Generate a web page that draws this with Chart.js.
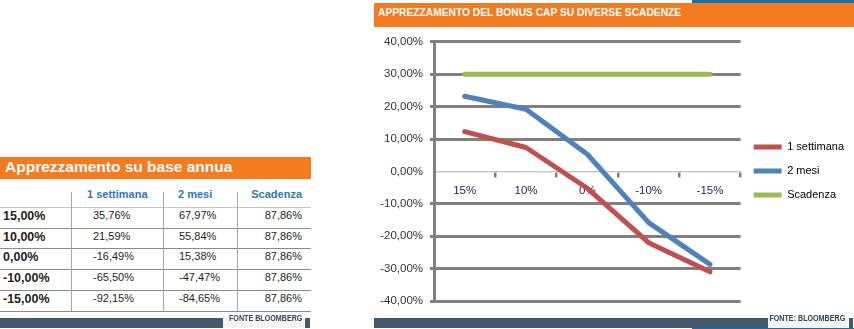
<!DOCTYPE html>
<html><head><meta charset="utf-8">
<script src="https://cdn.jsdelivr.net/npm/chart.js@4.4.1/dist/chart.umd.min.js"></script>
<style>
html,body{margin:0;padding:0;background:#fff;width:854px;height:329px;overflow:hidden;font-family:"Liberation Sans",Arial,sans-serif;}
.a{position:absolute;white-space:nowrap;}
</style></head><body>
<canvas id="c" width="480" height="290" style="position:absolute;left:374px;top:28px;"></canvas>
<script>
// ---- table data ----
const tableTitle = 'Apprezzamento su base annua';
const rowLabels = ['15,00%', '10,00%', '0,00%', '-10,00%', '-15,00%'];
const colLabels = ['1 settimana', '2 mesi', 'Scadenza'];
const annuo1Settimana = ['35,76%', '21,59%', '-16,49%', '-65,50%', '-92,15%'];
const annuo2Mesi = ['67,97%', '55,84%', '15,38%', '-47,47%', '-84,65%'];
const annuoScadenza = ['87,86%', '87,86%', '87,86%', '87,86%', '87,86%'];

// ---- chart data ----
const chartTitle = 'APPREZZAMENTO DEL BONUS CAP SU DIVERSE SCADENZE';
const categories = ['15%', '10%', '0%', '-10%', '-15%'];
const seriesNames = ['1 settimana', '2 mesi', 'Scadenza'];
const settimana = [12.3, 7.4, -5.2, -22.0, -31.0];
const dueMesi = [23.2, 19.2, 5.3, -15.8, -28.7];
const scadenza = [30, 30, 30, 30, 30];
const yMin = -40, yMax = 40, yStep = 10;

const ORANGE = '#F47B20', SLATE = '#44596E', STRIP = '#1C6FA2';

function box(l, t, w, h, bg) {
  const d = document.createElement('div');
  d.className = 'a';
  Object.assign(d.style, {left: l + 'px', top: t + 'px', width: w + 'px', height: h + 'px', background: bg});
  document.body.appendChild(d);
  return d;
}
function text(s, x, cy, font, color, align, sx) {
  const h = 20;
  const d = document.createElement('div');
  d.className = 'a';
  d.textContent = s;
  Object.assign(d.style, {top: (cy - h / 2) + 'px', height: h + 'px', lineHeight: h + 'px', font: font, color: color});
  if (align === 'right') { d.style.right = (854 - x) + 'px'; d.style.transformOrigin = 'right center'; }
  else { d.style.left = x + 'px'; d.style.transformOrigin = 'left center'; }
  if (sx) d.style.transform = 'scaleX(' + sx + ')';
  document.body.appendChild(d);
  return d;
}

// ---- right frame ----
box(692, 0, 162, 3, STRIP);
box(374, 3, 480, 24, ORANGE);
text(chartTitle, 378, 16, 'bold 11.5px "Liberation Sans"', '#fff', 'left', 0.89);
box(374, 318, 394, 10, SLATE);
box(768, 318, 80, 10, '#F3F3F3');
box(849, 318, 4, 10, SLATE);
text('FONTE: BLOOMBERG', 845, 323, 'bold 8.5px "Liberation Sans"', '#34475B', 'right', 0.84);
box(692, 328, 162, 1, STRIP);

// ---- left table ----
box(0, 157, 311, 22, ORANGE);
text(tableTitle, 5, 168, 'bold 15.5px "Liberation Sans"', '#fff', 'left');
const lineY = [206.7, 227.5, 248.3, 269.1, 289.9, 310.7];
lineY.forEach((y, i) => box(0, Math.round(y), 311, 1, i === 0 ? '#C4C4C4' : '#8A8A8A'));
[71, 163, 237].forEach(x => box(x, 192, 1, 119, '#A6A6A6'));
const HB = 'bold 11px "Liberation Sans"', HC = '#2F77B5';
text(colLabels[0], 87, 197.7, HB, HC, 'left');
text(colLabels[1], 178, 197.7, HB, HC, 'left');
text(colLabels[2], 302, 197.7, HB, HC, 'right');
rowLabels.forEach((r, i) => {
  const cy = lineY[i] + 12;
  text(r, 3, cy, 'bold 12.5px "Liberation Sans"', '#231F20', 'left');
  text(annuo1Settimana[i], 93, cy, '11px "Liberation Sans"', '#231F20', 'left');
  text(annuo2Mesi[i], 179, cy, '11px "Liberation Sans"', '#231F20', 'left');
  text(annuoScadenza[i], 302, cy, '11px "Liberation Sans"', '#231F20', 'right');
});
box(0, 318, 223, 10, SLATE);
box(223, 318, 81, 10, '#F3F3F3');
box(305, 318, 5, 10, SLATE);
text('FONTE BLOOMBERG', 302, 323, 'bold 8.5px "Liberation Sans"', '#34475B', 'right', 0.84);

// ---- chart ----
const colors = ['#C0504D', '#4F81BD', '#9BBB59'];
const values = [settimana, dueMesi, scadenza];
new Chart(document.getElementById('c'), {
  type: 'line',
  data: {
    labels: categories,
    datasets: seriesNames.map((n, i) => ({
      label: n, data: values[i], borderColor: colors[i], backgroundColor: colors[i],
      borderWidth: 5, borderCapStyle: 'round', borderJoinStyle: 'round',
      pointRadius: 0, tension: 0, fill: false
    }))
  },
  options: {
    responsive: false, animation: false, devicePixelRatio: 1,
    layout: {padding: {top: 13, bottom: 17, left: 0, right: 0}},
    plugins: {
      tooltip: {enabled: false},
      legend: {
        position: 'right',
        labels: {
          usePointStyle: true, pointStyle: 'line', pointStyleWidth: 28,
          padding: 13, color: '#000', font: {family: '"Liberation Sans"', size: 11}
        }
      }
    },
    scales: {
      x: {
        type: 'category', offset: true, position: {y: 0},
        grid: {offset: true, drawOnChartArea: false, drawTicks: true, tickLength: 5, color: '#7F7F7F', lineWidth: 2.5},
        border: {display: true, color: '#C8C8C8', width: 1.5},
        ticks: {padding: 7, color: '#2E2457', font: {family: '"Liberation Sans"', size: 11.5}, maxRotation: 0}
      },
      y: {
        min: yMin, max: yMax,
        afterFit: s => { s.width = 60; },
        grid: {color: c => (c.tick && c.tick.value === 0) ? 'rgba(0,0,0,0)' : '#808080', lineWidth: 3, tickLength: 4},
        border: {display: true, color: '#808080', width: 3},
        ticks: {
          stepSize: yStep, padding: 7, color: '#333',
          font: {family: '"Liberation Sans"', size: 11.5},
          callback: v => v.toFixed(2).replace('.', ',') + '%'
        }
      }
    }
  }
});
</script>
</body></html>
